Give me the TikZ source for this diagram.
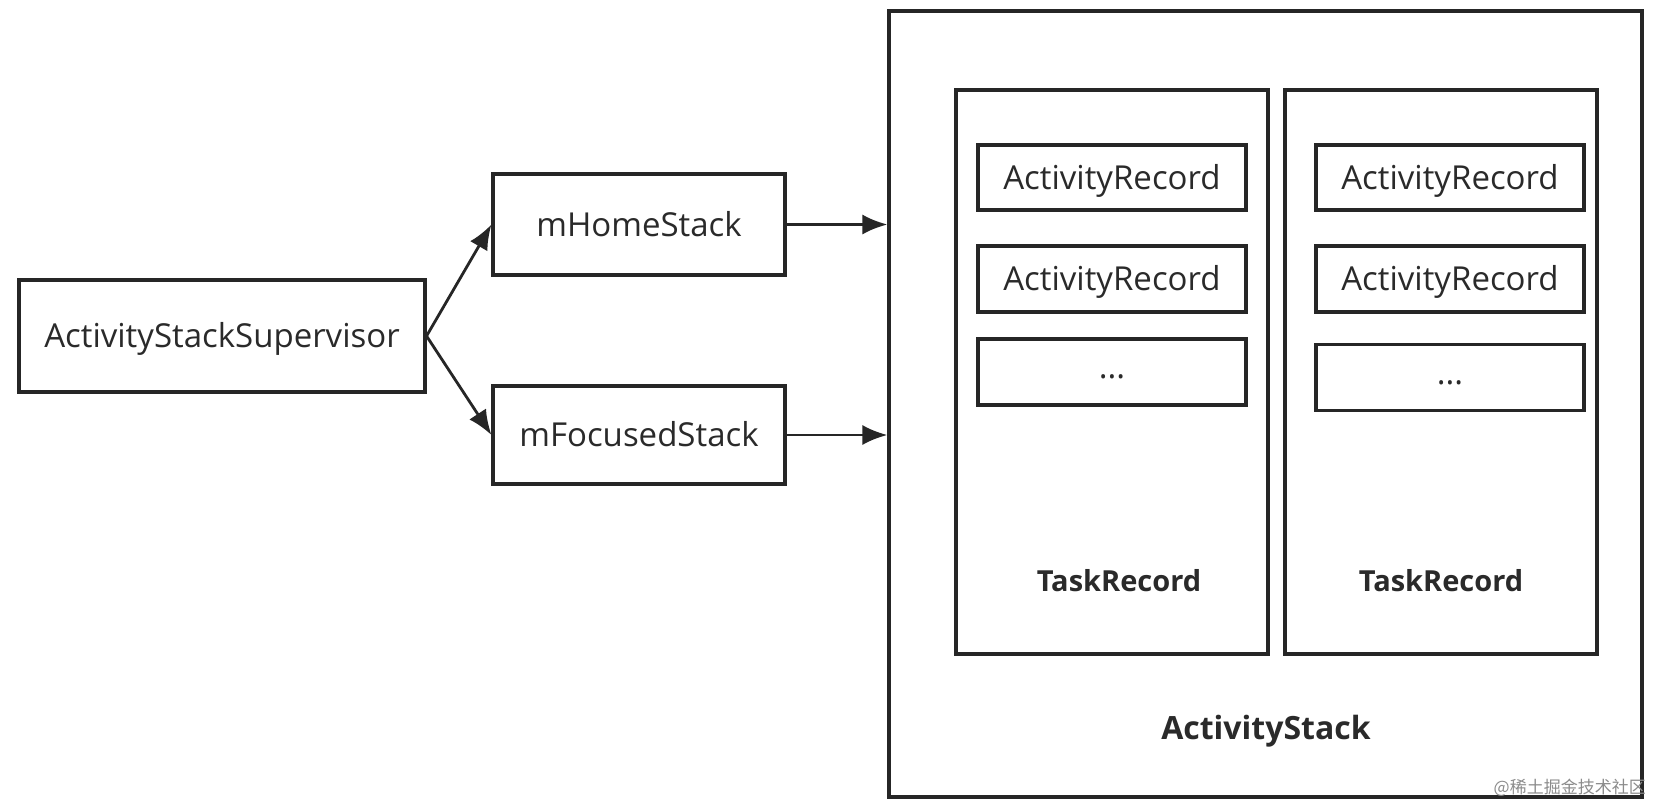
\documentclass[tikz,border=0pt]{standalone}
\usepackage{fontspec}
\setmainfont{Open Sans}
\newfontfamily\cjk{Noto Sans CJK SC}
\usetikzlibrary{arrows.meta}
\definecolor{txt}{HTML}{2A2A2A}
\tikzset{
  box/.style={draw=black!85, line width=3.1pt, rectangle, inner sep=0pt, text=txt, font=\fontsize{33}{36}\selectfont, text height=23.5pt, text depth=0pt},
  rec/.style={box, minimum width=268pt, font=\fontsize{33}{36}\selectfont},
  dots/.style={text height=13pt},
  lbl/.style={text=txt, font=\fontsize{29}{32}\selectfont\bfseries},
  arr/.style={line width=2.8pt, draw=black!85, -{Latex[length=25pt,width=20pt]}}
}
\begin{document}
\begin{tikzpicture}[x=1pt,y=-1pt]
\useasboundingbox (0,0) rectangle (1654,804);
\fill[white] (0,0) rectangle (1654,804);
% outer ActivityStack
\node[box, minimum width=753pt, minimum height=786pt] (outer) at (1265.5,404) {};
\node[lbl, font=\fontsize{32}{36}\selectfont\bfseries] (aslbl) at (1266,731) {ActivityStack};
% TaskRecords
\node[box, minimum width=312pt, minimum height=564pt] (task1) at (1112,372) {};
\node[box, minimum width=312pt, minimum height=564pt] (task2) at (1441,372) {};
\node[lbl] (t1lbl) at (1119,581) {TaskRecord};
\node[lbl] (t2lbl) at (1441,581) {TaskRecord};
% ActivityRecords
\node[rec, minimum height=65pt] (a11) at (1112,177.5) {ActivityRecord};
\node[rec, minimum height=66pt] (a12) at (1112,279) {ActivityRecord};
\node[rec, dots, minimum height=66pt] (a13) at (1112,372) {...};
\node[rec, minimum height=65pt] (a21) at (1450,177.5) {ActivityRecord};
\node[rec, minimum height=66pt] (a22) at (1450,279) {ActivityRecord};
\node[rec, dots, minimum height=66pt] (a23) at (1450,377.5) {...};
% left side
\node[box, minimum width=406pt, minimum height=112pt] (sup) at (222,336) {ActivityStackSupervisor};
\node[box, minimum width=292pt, minimum height=101pt] (home) at (639,224.5) {mHomeStack};
\node[box, minimum width=292pt, minimum height=98pt] (foc) at (639,435) {mFocusedStack};
% arrows
\draw[arr] (sup.east) -- (home.west);
\draw[arr] (sup.east) -- (foc.west);
\draw[arr] (home.east) -- (home.east -| outer.west);
\draw[arr] (foc.east) -- (foc.east -| outer.west);
% watermark
\node[anchor=east, text=black!45, font=\cjk\fontsize{17}{20}\selectfont, inner sep=0pt] (wm) at (1646,788) {@稀土掘金技术社区};
\end{tikzpicture}
\end{document}
